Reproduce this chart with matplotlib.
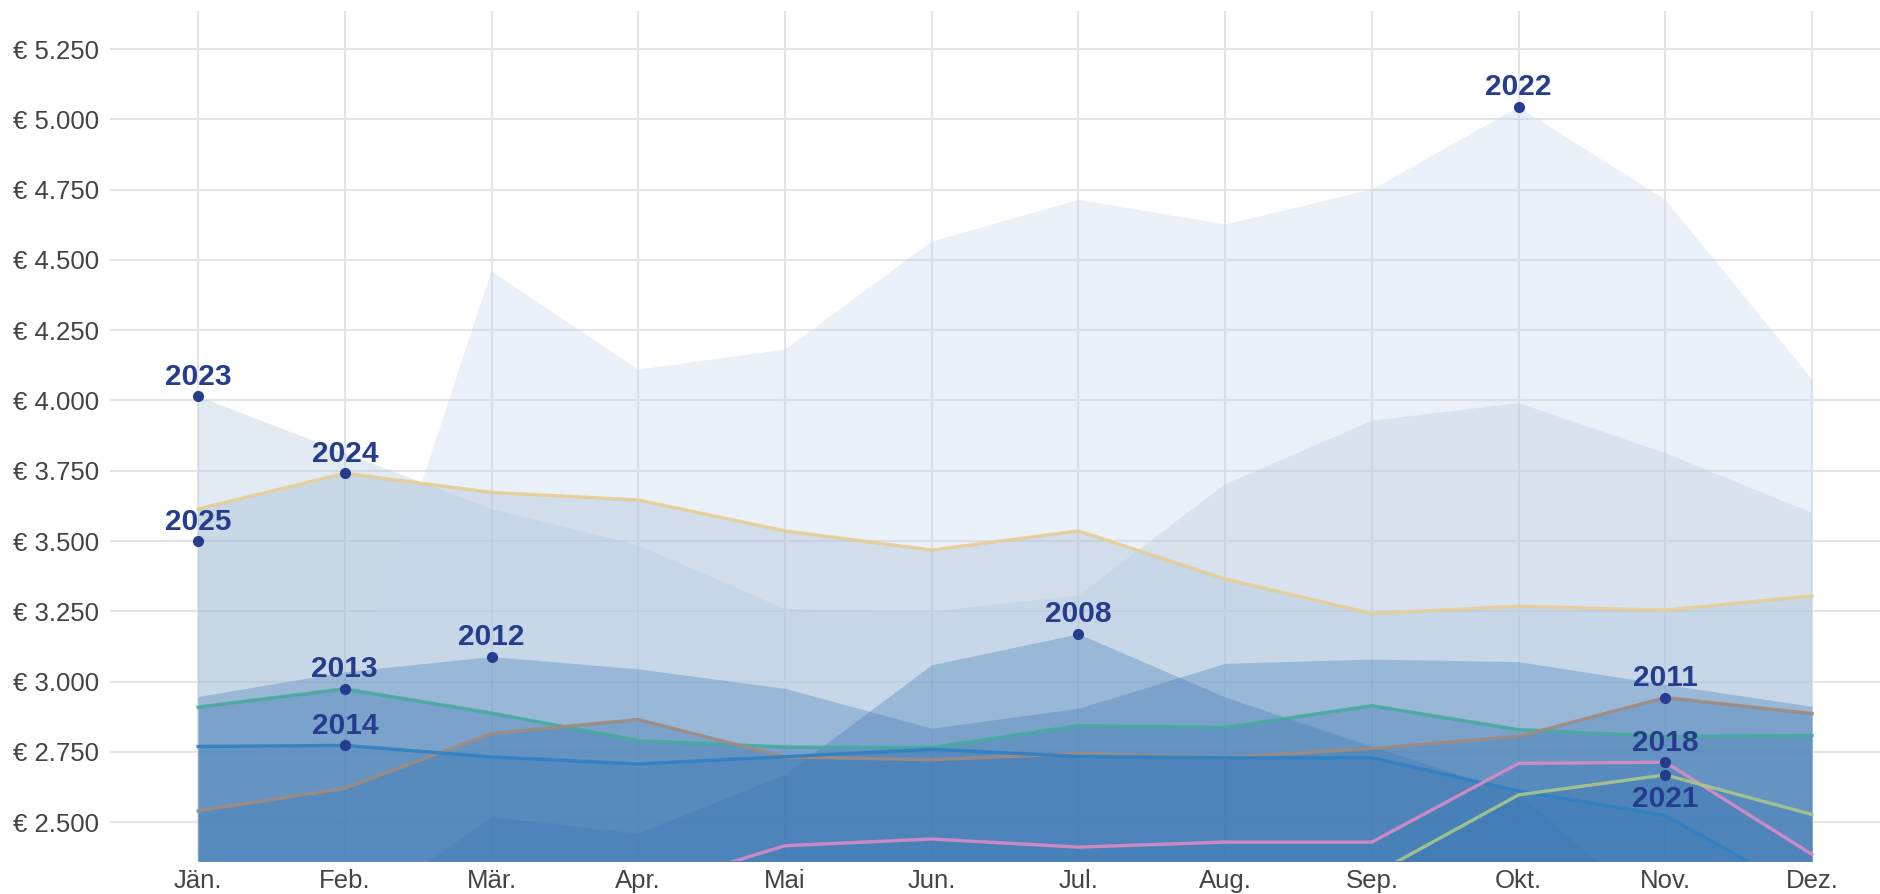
import matplotlib
matplotlib.use("Agg")
import matplotlib.pyplot as plt
from matplotlib.ticker import FuncFormatter, MultipleLocator

plt.rcParams["font.family"] = ["Liberation Sans", "DejaVu Sans"]

# Monatswerte in Euro
months = ["Jän.", "Feb.", "Mär.", "Apr.", "Mai", "Jun.", "Jul.", "Aug.", "Sep.", "Okt.", "Nov.", "Dez."]

y2008 = [2180, 2150, 2520, 2460, 2670, 3060, 3170, 2945, 2770, 2600, 2150, 1850]
y2011 = [2540, 2620, 2815, 2865, 2732, 2722, 2744, 2729, 2762, 2805, 2943, 2886]
y2012 = [2947, 3035, 3089, 3045, 2976, 2834, 2905, 3065, 3080, 3071, 2990, 2912]
y2013 = [2909, 2974, 2888, 2790, 2767, 2765, 2843, 2837, 2914, 2829, 2805, 2808]
y2014 = [2769, 2773, 2732, 2707, 2733, 2759, 2734, 2729, 2729, 2611, 2524, 2233]
y2018 = [2100, 2120, 2150, 2256, 2416, 2440, 2411, 2429, 2429, 2709, 2713, 2385]
y2021 = [1950, 2000, 2080, 2100, 2120, 2180, 2230, 2250, 2310, 2597, 2668, 2527]
y2022 = [2620, 2880, 4460, 4110, 4181, 4565, 4714, 4626, 4750, 5044, 4714, 4075]
y2023 = [4015, 3813, 3614, 3485, 3258, 3250, 3306, 3702, 3928, 3991, 3813, 3600]
y2024 = [3614, 3741, 3673, 3646, 3536, 3468, 3536, 3365, 3242, 3268, 3254, 3305]
y2025 = [3499]

series = {
    2024: y2024, 2023: y2023, 2022: y2022, 2021: y2021, 2018: y2018,
    2014: y2014, 2013: y2013, 2012: y2012, 2011: y2011, 2008: y2008, 2025: y2025,
}

# Flächenfarben: neuere Jahre heller
fill_colors = {2022: "#c5d5ea", 2023: "#a9c2d8", 2024: "#8eabcc"}
default_fill = "#3c78b4"
line_colors = {
    2024: "#e6cd94", 2013: "#45aa9c", 2011: "#a08a80",
    2014: "#2f80c2", 2018: "#dc8ac6", 2021: "#a8c78c",
}
label_below = {2021}
navy = "#253d8c"

fig = plt.figure(figsize=(18.81, 8.94), dpi=100)
ax = fig.add_axes([0.0585, 0.037, 0.9415, 0.9505])

for year, vals in series.items():
    x = list(range(len(vals)))
    if len(vals) > 1:
        ax.fill_between(x, vals, 0, color=fill_colors.get(year, default_fill),
                        alpha=0.33, linewidth=0, zorder=1)

for year, color in line_colors.items():
    vals = series[year]
    ax.plot(range(len(vals)), vals, color=color, lw=2.4, alpha=0.9, zorder=3)

for year, vals in series.items():
    i = max(range(len(vals)), key=lambda k: vals[k])
    ax.plot(i, vals[i], "o", color=navy, markersize=7, zorder=4)
    if year in label_below:
        ax.annotate(str(year), (i, vals[i]), xytext=(0, -7), textcoords="offset points",
                    ha="center", va="top", fontsize=21.5, fontweight="bold", color=navy, zorder=5)
    else:
        ax.annotate(str(year), (i, vals[i]), xytext=(0, 4), textcoords="offset points",
                    ha="center", va="bottom", fontsize=21.5, fontweight="bold", color=navy, zorder=5)

ax.set_xlim(-0.6, 11.47)
ax.set_ylim(2362, 5385)
ax.set_xticks(range(12))
ax.set_xticklabels(months)
ax.yaxis.set_major_locator(MultipleLocator(250))
ax.yaxis.set_major_formatter(FuncFormatter(lambda v, p: "€ " + f"{v:,.0f}".replace(",", ".")))
ax.set_yticks([v for v in range(2500, 5251, 250)])

ax.grid(True, color="#e3e5ea", lw=1.5, zorder=0)
ax.set_axisbelow(True)
for s in ax.spines.values():
    s.set_visible(False)
ax.tick_params(length=0, labelsize=18.5, labelcolor="#444444")
ax.tick_params(axis="y", pad=8)
ax.tick_params(axis="x", pad=6)

fig.savefig("out.png", dpi=100)
